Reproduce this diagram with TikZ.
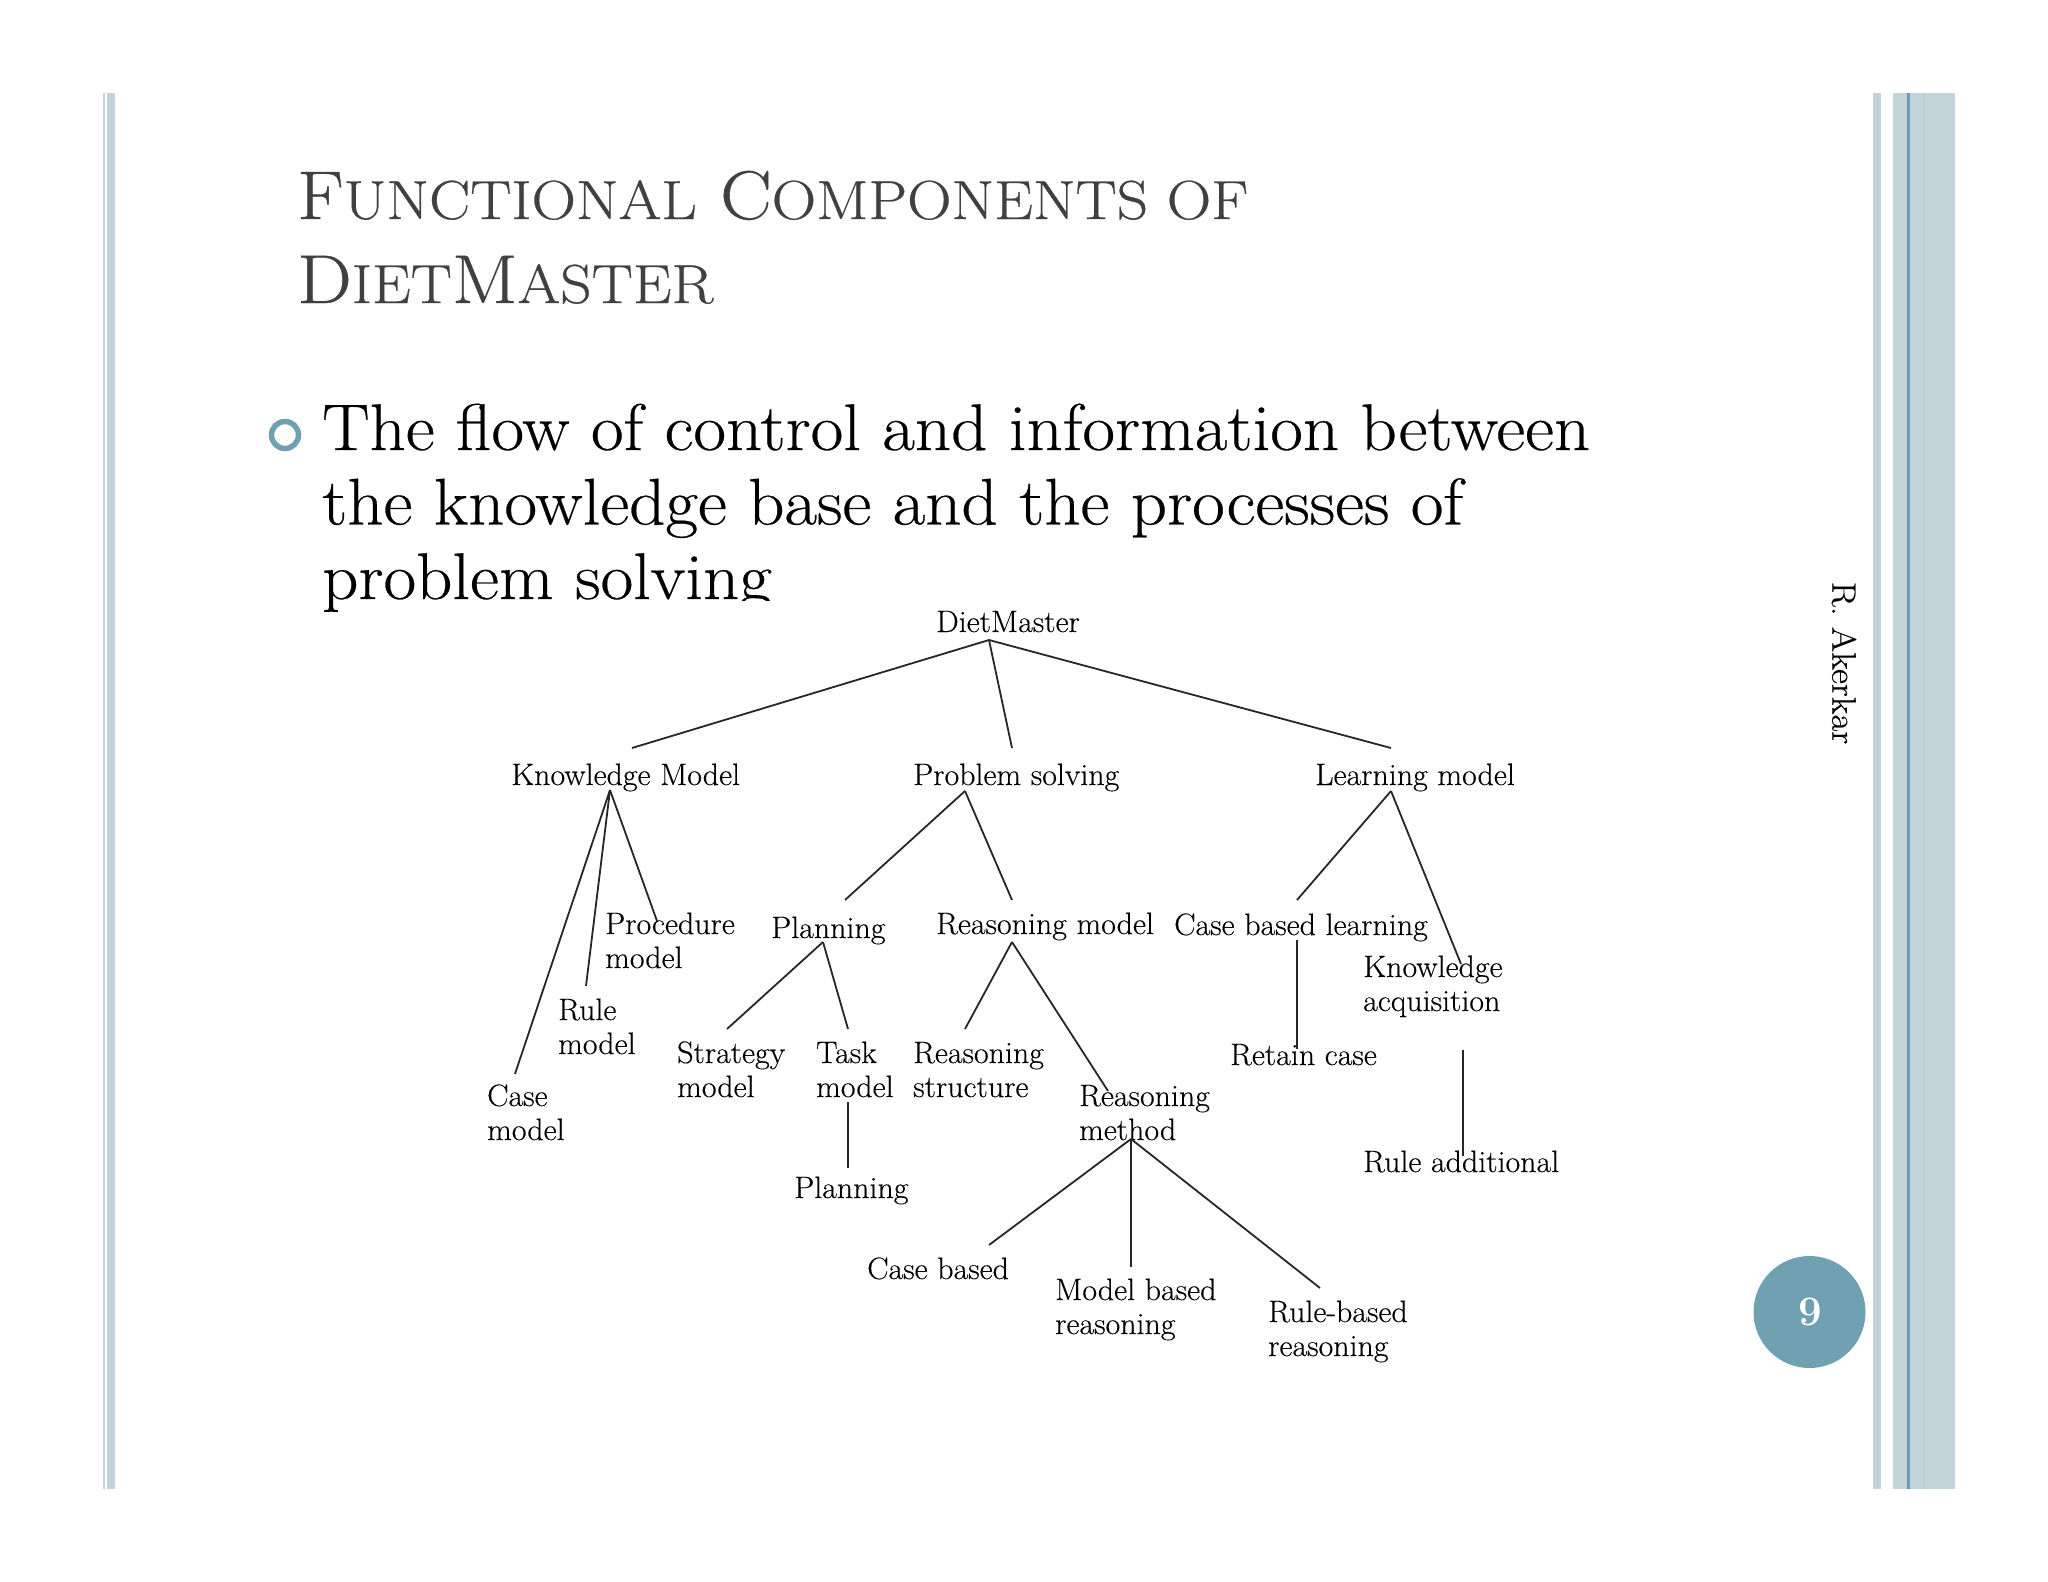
\documentclass[tikz,border=0pt]{standalone}
\usepackage{fontspec}
\usepackage{tikz}
\newfontfamily\headfont[FakeStretch=1.12,FakeBold=0.5]{Latin Modern Roman}
\newfontfamily\bodyfont[FakeStretch=1.075,FakeBold=0.4]{Latin Modern Roman}
\newfontfamily\labelfont[FakeStretch=1.03,FakeBold=0.25]{Latin Modern Roman}
\newcommand{\lowcaps}[1]{{\fontsize{55}{84}\selectfont #1}}
\definecolor{barblue}{HTML}{C2D4DA}
\definecolor{linkblue}{HTML}{6F9AB8}
\definecolor{seablue}{HTML}{6FA1B3}
\begin{document}
\begin{tikzpicture}[
x=1pt,y=-1pt,
bar/.style={fill=barblue, draw=none},
label/.style={anchor=base west, inner sep=0pt, align=left, font=\labelfont\fontsize{31}{34}\selectfont},
link/.style={line width=1.8pt, black!85},
]
\useasboundingbox (0,0) rectangle (2048,1582);

\fill[bar] (103,93) rectangle (105,1489);
\fill[bar] (107,93) rectangle (115,1489);
\fill[bar] (1873,93) rectangle (1881,1489);
\fill[bar] (1893,93) rectangle (1955,1489);
\fill[linkblue] (1907,93) rectangle (1910,1489);
\fill[barblue!85!black!70!white] (1923,93) rectangle (1925,1489);

\node[anchor=base west, inner sep=0pt, align=left, text=black!75, font=\headfont\fontsize{69}{84}\selectfont] (title) at (297,303) {F\lowcaps{UNCTIONAL} C\lowcaps{OMPONENTS OF}\\D\lowcaps{IET}M\lowcaps{ASTER}};
\node[circle, draw=seablue, line width=5.5pt, minimum size=27pt, inner sep=0pt] (dot) at (285,435) {};
\node[anchor=base west, inner sep=0pt, align=left, font=\bodyfont\fontsize{66}{74.5}\selectfont] (body) at (322,599) {The flow of control and information between\\the knowledge base and the processes of\\problem solving};
\fill[white] (420,601) rectangle (1640,640);

\node[rotate=-90, inner sep=0pt, font=\bodyfont\fontsize{34}{40}\selectfont] (author) at (1844,663) {R. Akerkar};
\node[circle, fill=seablue, minimum size=112pt, inner sep=0pt, text=white, font=\fontsize{42}{46}\selectfont\bfseries] (page) at (1809.5,1312) {\raisebox{-2pt}{\hspace*{2pt}9}};

\node[label] (root) at (936,632) {DietMaster};
\node[label] (km) at (511,785) {Knowledge Model};
\node[label] (ps) at (913,785) {Problem solving};
\node[label] (lm) at (1315,785) {Learning model};
\node[label] (pc) at (605,968) {Procedure\\model};
\node[label] (rl) at (558,1054) {Rule\\model};
\node[label] (cm) at (487,1140) {Case\\model};
\node[label] (pl) at (771,938) {Planning};
\node[label] (rm) at (936,934) {Reasoning model};
\node[label] (cb) at (1174,935) {Case based learning};
\node[label] (ka) at (1363,1011) {Knowledge\\acquisition};
\node[label] (st) at (677,1097) {Strategy\\model};
\node[label] (ta) at (816,1097) {Task\\model};
\node[label] (rs) at (913,1097) {Reasoning\\structure};
\node[label] (rc) at (1230,1065) {Retain case};
\node[label] (rh) at (1079,1140) {Reasoning\\method};
\node[label] (pn) at (794,1198) {Planning};
\node[label] (ra) at (1363,1172) {Rule additional};
\node[label] (cs) at (867,1279) {Case based};
\node[label] (mb) at (1055,1334) {Model based\\reasoning};
\node[label] (rb) at (1268,1356) {Rule-based\\reasoning};

\path[link]
([shift={(53,8)}]root.base west) edge ([shift={(121,-37)}]km.base west)
([shift={(53,8)}]root.base west) edge ([shift={(99,-37)}]ps.base west)
([shift={(53,8)}]root.base west) edge ([shift={(76,-37)}]lm.base west)
([shift={(99,5)}]km.base west) edge ([shift={(28,-66)}]cm.base west)
([shift={(99,5)}]km.base west) edge ([shift={(28,-68)}]rl.base west)
([shift={(99,5)}]km.base west) edge ([shift={(52,-47)}]pc.base west)
([shift={(52,6)}]ps.base west) edge ([shift={(74,-38)}]pl.base west)
([shift={(52,6)}]ps.base west) edge ([shift={(76,-34)}]rm.base west)
([shift={(76,6)}]lm.base west) edge ([shift={(123,-35)}]cb.base west)
([shift={(76,6)}]lm.base west) edge ([shift={(98,-47)}]ka.base west)
([shift={(52,4)}]pl.base west) edge ([shift={(50,-68)}]st.base west)
([shift={(52,4)}]pl.base west) edge ([shift={(32,-68)}]ta.base west)
([shift={(32,5)}]ta.base west) edge ([shift={(54,-30)}]pn.base west)
([shift={(76,8)}]rm.base west) edge ([shift={(52,-68)}]rs.base west)
([shift={(76,8)}]rm.base west) edge ([shift={(29,-49)}]rh.base west)
([shift={(52,-1)}]rh.base west) edge ([shift={(122,-34)}]cs.base west)
([shift={(52,-1)}]rh.base west) edge ([shift={(76,-67)}]mb.base west)
([shift={(52,-1)}]rh.base west) edge ([shift={(52,-68)}]rb.base west)
([shift={(123,5)}]cb.base west) edge ([shift={(67,-16)}]rc.base west)
([shift={(100,39)}]ka.base west) edge ([shift={(100,-16)}]ra.base west)
;
\end{tikzpicture}
\end{document}
